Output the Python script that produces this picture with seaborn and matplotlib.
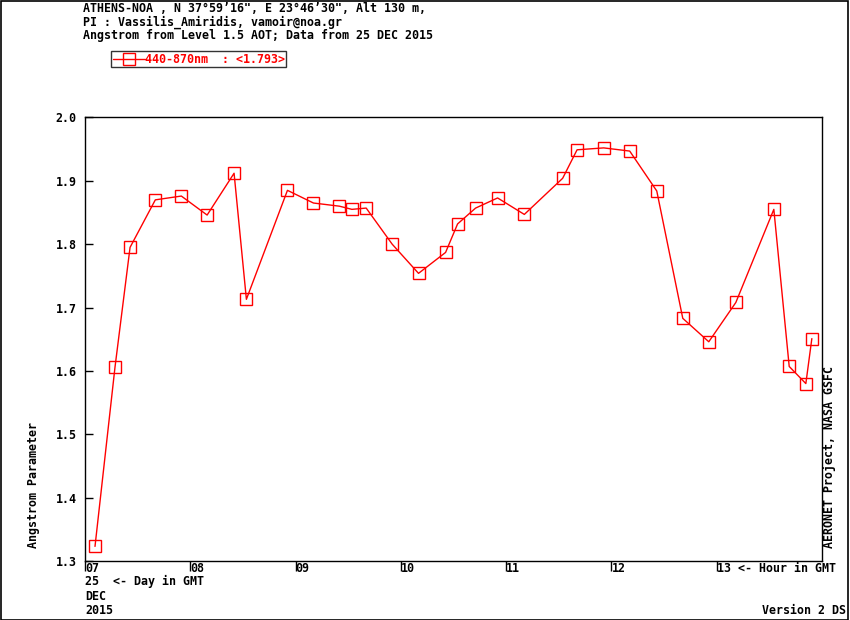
import numpy as np
import pandas as pd
import seaborn as sns
import matplotlib.pyplot as plt
from matplotlib.patches import Rectangle

# hour of day (GMT, decimal) and Angstrom exponent 440-870nm, 25 DEC 2015
hours = [7.095, 7.285, 7.428, 7.668, 7.915, 8.160, 8.416, 8.533,
         8.923, 9.170, 9.417, 9.535, 9.671, 9.918, 10.168, 10.425,
         10.539, 10.710, 10.919, 11.173, 11.537, 11.674, 11.927, 12.174,
         12.431, 12.678, 12.925, 13.182, 13.543, 13.689, 13.847, 13.904]
angstrom = [1.323, 1.606, 1.795, 1.870, 1.876, 1.846, 1.912, 1.713,
            1.885, 1.865, 1.860, 1.855, 1.857, 1.800, 1.754, 1.787,
            1.832, 1.857, 1.873, 1.847, 1.904, 1.949, 1.952, 1.947,
            1.884, 1.683, 1.646, 1.708, 1.855, 1.607, 1.580, 1.651]
hour_ticks = [7, 8, 9, 10, 11, 12, 13]
hour_labels = ["07", "08", "09", "10", "11", "12", "13 <- Hour in GMT"]
y_ticks = [1.3, 1.4, 1.5, 1.6, 1.7, 1.8, 1.9, 2.0]
header = ["ATHENS-NOA , N 37\u00b059\u201916\", E 23\u00b046\u201930\", Alt 130 m,",
          "PI : Vassilis_Amiridis, vamoir@noa.gr",
          "Angstrom from Level 1.5 AOT; Data from 25 DEC 2015"]
legend_label = "440-870nm  : <1.793>"

sns.set_style("white")
plt.rcParams['font.family'] = ['DejaVu Sans Mono']
plt.rcParams['font.weight'] = 'bold'
plt.rcParams['font.size'] = 8.4
for k in ['text.color', 'axes.labelcolor', 'xtick.color', 'ytick.color', 'axes.edgecolor']:
    plt.rcParams[k] = 'black'

df = pd.DataFrame({"hour": hours, "angstrom": angstrom})

fig = plt.figure(figsize=(8.5, 6.2), dpi=100)
ax = fig.add_axes([0.1, 0.0952, 0.867, 0.7153])

sns.lineplot(data=df, x="hour", y="angstrom", ax=ax, color="red", linewidth=1,
             marker="s", markersize=8.2, markerfacecolor="none",
             markeredgecolor="red", markeredgewidth=1, label=legend_label)

ax.set_xlim(7, 14)
ax.set_ylim(1.3, 2.0)
ax.set_xticks(hour_ticks)
ax.set_xticklabels(hour_labels, ha="left")
ax.set_yticks(y_ticks)
ax.set_yticklabels(["%.1f" % v for v in y_ticks])
ax.tick_params(axis="x", direction="out", length=7, width=1, pad=-6, labelsize=8.4,
               colors="black")
ax.tick_params(axis="y", direction="in", length=5.8, width=1, pad=6, labelsize=8.4,
               colors="black")
ax.tick_params(left=True, bottom=True, right=False, top=False)
for s in ax.spines.values():
    s.set_color("black")
    s.set_linewidth(1)
ax.set_xlabel("")
ax.set_ylabel("")

leg = ax.legend(loc="upper left", bbox_to_anchor=(0.131, 0.917),
                bbox_transform=fig.transFigure, frameon=True, fancybox=False,
                shadow=False, borderpad=0.1, handlelength=2.8, handletextpad=0.0,
                borderaxespad=0, prop={"family": "DejaVu Sans Mono", "weight": "bold", "size": 8.4})
leg.get_frame().set_edgecolor("black")
leg.get_frame().set_linewidth(1)
for t in leg.get_texts():
    t.set_color("red")

for i, line in enumerate(header):
    fig.text(83 / 850, 1 - (9 + 13.5 * i) / 620, line, ha="left", va="center")

fig.text(85 / 850, 1 - 581 / 620, "25  <- Day in GMT", ha="left", va="center")
fig.text(85 / 850, 1 - 597 / 620, "DEC", ha="left", va="center")
fig.text(85 / 850, 1 - 611 / 620, "2015", ha="left", va="center")
fig.text(846 / 850, 1 - 610 / 620, "Version 2 DS", ha="right", va="center")
fig.text(34 / 850, 1 - 548 / 620, "Angstrom Parameter", rotation=90,
         ha="center", va="bottom")
fig.text(829 / 850, 1 - 548 / 620, "AERONET Project, NASA GSFC", rotation=90,
         ha="center", va="bottom")

fig.patches.append(Rectangle((0.0006, 0.0008), 0.9976, 0.9976, transform=fig.transFigure,
                             fill=False, edgecolor="black", linewidth=1.2))

fig.savefig("out.png", dpi=100)
